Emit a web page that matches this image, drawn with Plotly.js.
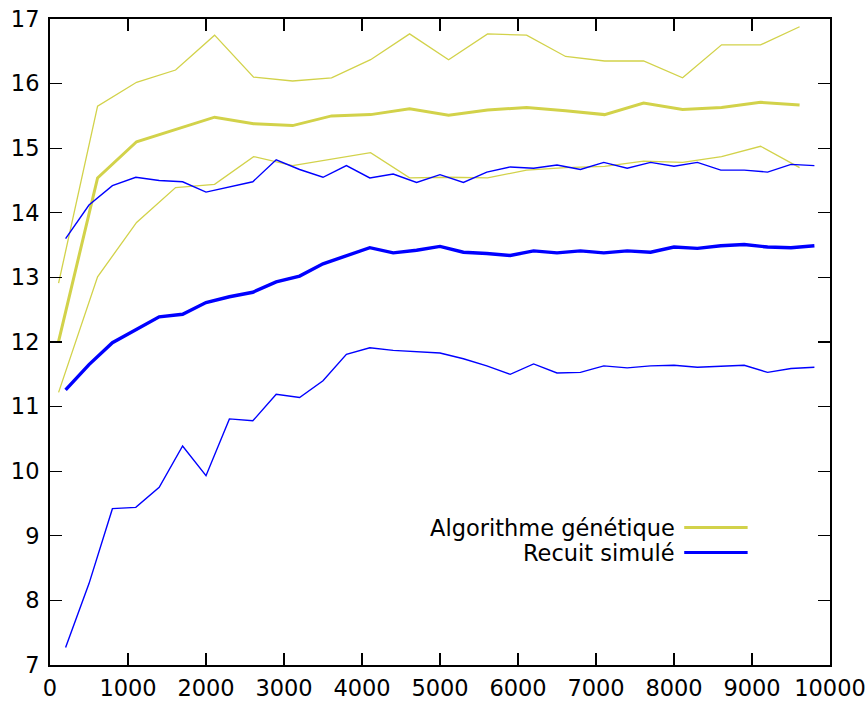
<!DOCTYPE html>
<html>
<head>
<meta charset="utf-8">
<script src="https://cdn.plot.ly/plotly-3.0.1.min.js"></script>
<style>html,body{margin:0;padding:0;background:#fff;}#chart{width:867px;height:704px;}</style>
</head>
<body>
<div id="chart"></div>
<script>
// Algorithme génétique (GA): x positions and values
const gaX = [110,610,1110,1610,2110,2610,3110,3610,4110,4610,5110,5610,6110,6610,7110,7610,8110,8610,9110,9610];
const gaMax = [12.91,15.65,16.02,16.21,16.75,16.10,16.04,16.09,16.37,16.77,16.37,16.77,16.75,16.42,16.35,16.35,16.09,16.60,16.60,16.88];
const gaMean = [12.01,14.54,15.10,15.29,15.48,15.38,15.35,15.50,15.52,15.61,15.51,15.59,15.63,15.58,15.52,15.70,15.60,15.63,15.71,15.67];
const gaMin = [11.22,13.01,13.85,14.39,14.44,14.87,14.73,14.83,14.93,14.54,14.55,14.54,14.66,14.70,14.72,14.80,14.78,14.87,15.03,14.70];

// Recuit simulé (SA)
const saX = [200,500,800,1100,1400,1700,2000,2300,2600,2900,3200,3500,3800,4100,4400,4700,5000,5300,5600,5900,6200,6500,6800,7100,7400,7700,8000,8300,8600,8900,9200,9500,9800];
const saMax = [13.60,14.12,14.42,14.55,14.50,14.48,14.32,14.40,14.48,14.82,14.67,14.55,14.73,14.54,14.60,14.47,14.59,14.47,14.63,14.71,14.69,14.74,14.67,14.78,14.69,14.78,14.72,14.78,14.66,14.66,14.63,14.75,14.73];
const saMean = [11.26,11.65,11.99,12.19,12.39,12.43,12.61,12.70,12.77,12.93,13.02,13.21,13.34,13.46,13.38,13.42,13.48,13.39,13.37,13.34,13.41,13.38,13.41,13.38,13.41,13.39,13.47,13.45,13.49,13.51,13.47,13.46,13.49];
const saMin = [7.27,8.26,9.42,9.44,9.75,10.39,9.93,10.81,10.78,11.19,11.14,11.40,11.81,11.91,11.87,11.85,11.83,11.74,11.63,11.50,11.66,11.52,11.53,11.63,11.60,11.63,11.64,11.61,11.63,11.64,11.53,11.59,11.61];

const legendNames = ["Algorithme génétique", "Recuit simulé"];
const xTicks = [0,1000,2000,3000,4000,5000,6000,7000,8000,9000,10000];
const yTicks = [7,8,9,10,11,12,13,14,15,16,17];

const YEL = '#d2d24a';
const BLU = '#0000ff';

const traces = [
  {x: gaX, y: gaMax, mode: 'lines', line: {color: YEL, width: 1.3}, showlegend: false},
  {x: gaX, y: gaMin, mode: 'lines', line: {color: YEL, width: 1.3}, showlegend: false},
  {x: gaX, y: gaMean, mode: 'lines', line: {color: YEL, width: 3}, name: legendNames[0], showlegend: false},
  {x: saX, y: saMax, mode: 'lines', line: {color: BLU, width: 1.4}, showlegend: false},
  {x: saX, y: saMin, mode: 'lines', line: {color: BLU, width: 1.4}, showlegend: false},
  {x: saX, y: saMean, mode: 'lines', line: {color: BLU, width: 3.4}, name: legendNames[1], showlegend: false}
];

const font = {family: 'DejaVu Sans', size: 22.5, color: '#000'};
const axisCommon = {
  showline: true, mirror: 'ticks', linecolor: '#000', linewidth: 2,
  ticks: 'inside', ticklen: 12, tickwidth: 1.2, tickcolor: '#000',
  showgrid: false, zeroline: false, tickfont: font
};

const legRowY = [0.2127, 0.174];
const legColors = [YEL, BLU];
const annotations = legendNames.map((t, i) => ({
  xref: 'paper', yref: 'paper', x: 0.8033, y: legRowY[i], xanchor: 'right', yanchor: 'middle',
  text: t, showarrow: false, font: font
}));
const shapes = legendNames.map((t, i) => ({
  type: 'line', xref: 'paper', yref: 'paper', x0: 0.8131, x1: 0.8944, y0: legRowY[i], y1: legRowY[i],
  line: {color: legColors[i], width: 3}
}));

const layout = {
  width: 867, height: 704,
  margin: {l: 50, r: 37, t: 19, b: 39},
  paper_bgcolor: '#fff', plot_bgcolor: '#fff',
  font: font,
  xaxis: Object.assign({}, axisCommon, {range: [0, 10000], tickvals: xTicks, ticktext: xTicks.map(String), ticklabelstandoff: 2}),
  yaxis: Object.assign({}, axisCommon, {range: [7, 17], tickvals: yTicks, ticktext: yTicks.map(String), ticklabelstandoff: 4}),
  annotations: annotations,
  shapes: shapes,
  showlegend: false
};

Plotly.newPlot('chart', traces, layout, {staticPlot: true});
</script>
</body>
</html>
